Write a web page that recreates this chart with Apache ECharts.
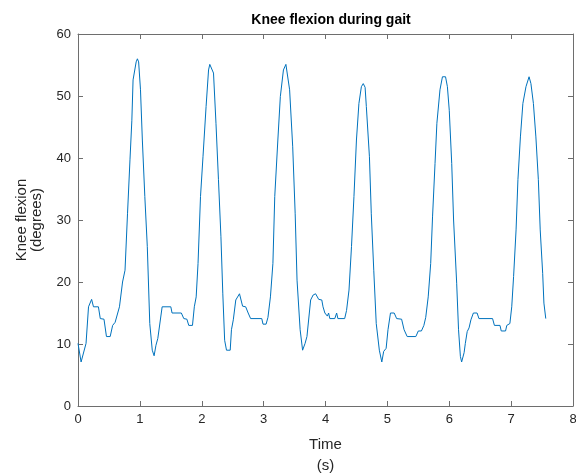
<!DOCTYPE html>
<html>
<head>
<meta charset="utf-8">
<script src="https://cdn.jsdelivr.net/npm/echarts@6/dist/echarts.min.js"></script>
<style>
  html, body { margin: 0; padding: 0; background: #fff; }
  #chart { width: 576px; height: 476px; }
</style>
</head>
<body>
<div id="chart"></div>
<script>
// Knee flexion angle over time (seconds, degrees)
var timeS = [
  0.00, 0.05, 0.13, 0.17, 0.22, 0.25, 0.33, 0.36, 0.42, 0.46, 0.52, 0.56, 0.60, 0.67, 0.69,
  0.72, 0.76, 0.80, 0.84, 0.87, 0.89, 0.94, 0.96, 0.98, 1.01, 1.04, 1.08, 1.12, 1.16, 1.20,
  1.23, 1.26, 1.29, 1.32, 1.36, 1.50, 1.52, 1.67, 1.71, 1.76, 1.79, 1.85, 1.88, 1.91, 1.94,
  1.98, 2.02, 2.07, 2.11, 2.13, 2.16, 2.19, 2.23, 2.27, 2.31, 2.34, 2.37, 2.40, 2.46, 2.48,
  2.51, 2.55, 2.61, 2.66, 2.71, 2.75, 2.79, 2.97, 2.99, 3.04, 3.07, 3.11, 3.15, 3.18, 3.23,
  3.27, 3.32, 3.36, 3.39, 3.42, 3.47, 3.51, 3.54, 3.59, 3.63, 3.67, 3.70, 3.72, 3.76, 3.80,
  3.84, 3.89, 3.94, 3.96, 3.99, 4.03, 4.05, 4.07, 4.15, 4.18, 4.20, 4.31, 4.34, 4.38, 4.42,
  4.46, 4.50, 4.54, 4.58, 4.61, 4.64, 4.66, 4.71, 4.74, 4.78, 4.82, 4.87, 4.91, 4.94, 4.98,
  5.01, 5.05, 5.11, 5.15, 5.23, 5.27, 5.30, 5.32, 5.46, 5.50, 5.55, 5.59, 5.62, 5.66, 5.70,
  5.73, 5.77, 5.80, 5.85, 5.89, 5.94, 5.97, 6.00, 6.04, 6.07, 6.12, 6.15, 6.18, 6.20, 6.24,
  6.26, 6.29, 6.32, 6.35, 6.39, 6.45, 6.48, 6.70, 6.73, 6.82, 6.84, 6.91, 6.93, 6.98, 7.01,
  7.04, 7.08, 7.11, 7.15, 7.19, 7.24, 7.29, 7.32, 7.36, 7.40, 7.44, 7.47, 7.51, 7.53, 7.56
];
var flexionDeg = [
  10.1, 7.1, 10.1, 16.0, 17.2, 16.0, 16.0, 14.1, 14.0, 11.2, 11.2, 13.0, 13.5, 16.0, 16.0,
  20.0, 21.9, 31.0, 39.7, 46.0, 52.6, 55.5, 56.0, 55.5, 51.0, 42.9, 33.8, 25.7, 13.3, 9.0,
  8.1, 9.8, 10.9, 11.0, 16.0, 16.0, 15.0, 15.0, 14.1, 14.0, 13.0, 13.0, 16.0, 17.6, 23.0,
  33.8, 40.2, 48.3, 54.2, 55.1, 55.1, 53.7, 45.6, 36.5, 27.3, 18.2, 10.6, 9.0, 9.0, 12.3,
  13.9, 17.1, 18.1, 16.1, 16.0, 15.0, 14.1, 14.1, 13.2, 13.2, 14.3, 17.6, 23.0, 33.8, 42.9,
  49.9, 54.2, 55.1, 54.9, 51.0, 41.8, 31.0, 20.3, 12.3, 9.0, 10.1, 11.2, 11.2, 17.1, 17.9,
  18.1, 17.2, 17.1, 16.0, 15.0, 14.5, 15.0, 14.1, 14.1, 15.0, 14.1, 14.1, 15.4, 18.7, 25.7,
  33.8, 42.9, 48.8, 51.5, 52.0, 51.4, 48.3, 40.2, 31.0, 21.9, 13.3, 9.0, 7.1, 8.8, 9.3,
  12.3, 15.0, 15.0, 14.1, 14.0, 12.3, 12.0, 11.2, 11.2, 12.1, 12.1, 13.0, 14.3, 17.6, 23.0,
  30.5, 39.1, 45.6, 51.0, 53.1, 53.1, 51.5, 47.7, 39.1, 30.0, 19.8, 12.3, 8.0, 7.1, 8.6,
  10.1, 12.0, 12.6, 13.9, 15.0, 15.0, 14.1, 14.1, 13.0, 13.0, 12.1, 12.1, 13.0, 13.3, 16.0,
  20.9, 28.4, 36.5, 43.4, 48.8, 51.5, 53.1, 52.0, 48.8, 43.4, 36.5, 28.4, 21.4, 16.6, 14.1
];

var xTicks = { min: 0, max: 8, step: 1 };
var yTicks = { min: 0, max: 60, step: 10 };

var points = timeS.map(function (t, i) { return [t, flexionDeg[i]]; });

var font = 'Liberation Sans, Arial, Helvetica, sans-serif';
var axisGray = '#6e6e6e';
var textDark = '#262626';

// one side of the boxed axes; only bottom and left carry labels
function boxAxis(pos, range, primary) {
  return {
    type: 'value',
    position: pos,
    min: range.min,
    max: range.max,
    interval: range.step,
    axisLine: { show: true, onZero: false, lineStyle: { color: axisGray, width: 1 } },
    axisTick: { show: true, inside: true, length: 5, lineStyle: { color: axisGray, width: 1 } },
    splitLine: { show: false },
    axisLabel: { show: primary, color: textDark, fontFamily: font, fontSize: 13, margin: 7 }
  };
}

var xBottom = boxAxis('bottom', xTicks, true);
xBottom.name = 'Time\n(s)';
xBottom.nameLocation = 'middle';
xBottom.nameGap = 28;
xBottom.nameTextStyle = { color: textDark, fontFamily: font, fontSize: 15, lineHeight: 21 };
var xTop = boxAxis('top', xTicks, false);

var yLeft = boxAxis('left', yTicks, true);
yLeft.name = 'Knee flexion\n(degrees)';
yLeft.nameLocation = 'middle';
yLeft.nameGap = 34;
yLeft.nameTextStyle = { color: textDark, fontFamily: font, fontSize: 15, lineHeight: 15 };
var yRight = boxAxis('right', yTicks, false);

var chart = echarts.init(document.getElementById('chart'), null, { renderer: 'canvas' });
chart.setOption({
  animation: false,
  backgroundColor: '#ffffff',
  title: {
    text: 'Knee flexion during gait',
    left: 326,
    textAlign: 'center',
    top: 8,
    textStyle: { color: '#000', fontFamily: font, fontSize: 14, fontWeight: 'bold' }
  },
  grid: { left: 78, right: 3, top: 34, bottom: 70, containLabel: false, outerBoundsMode: 'none' },
  xAxis: [xBottom, xTop],
  yAxis: [yLeft, yRight],
  series: [{
    type: 'line',
    xAxisIndex: 0,
    yAxisIndex: 0,
    data: points,
    showSymbol: false,
    smooth: false,
    lineStyle: { color: '#0072BD', width: 1 }
  }]
});
</script>
</body>
</html>
